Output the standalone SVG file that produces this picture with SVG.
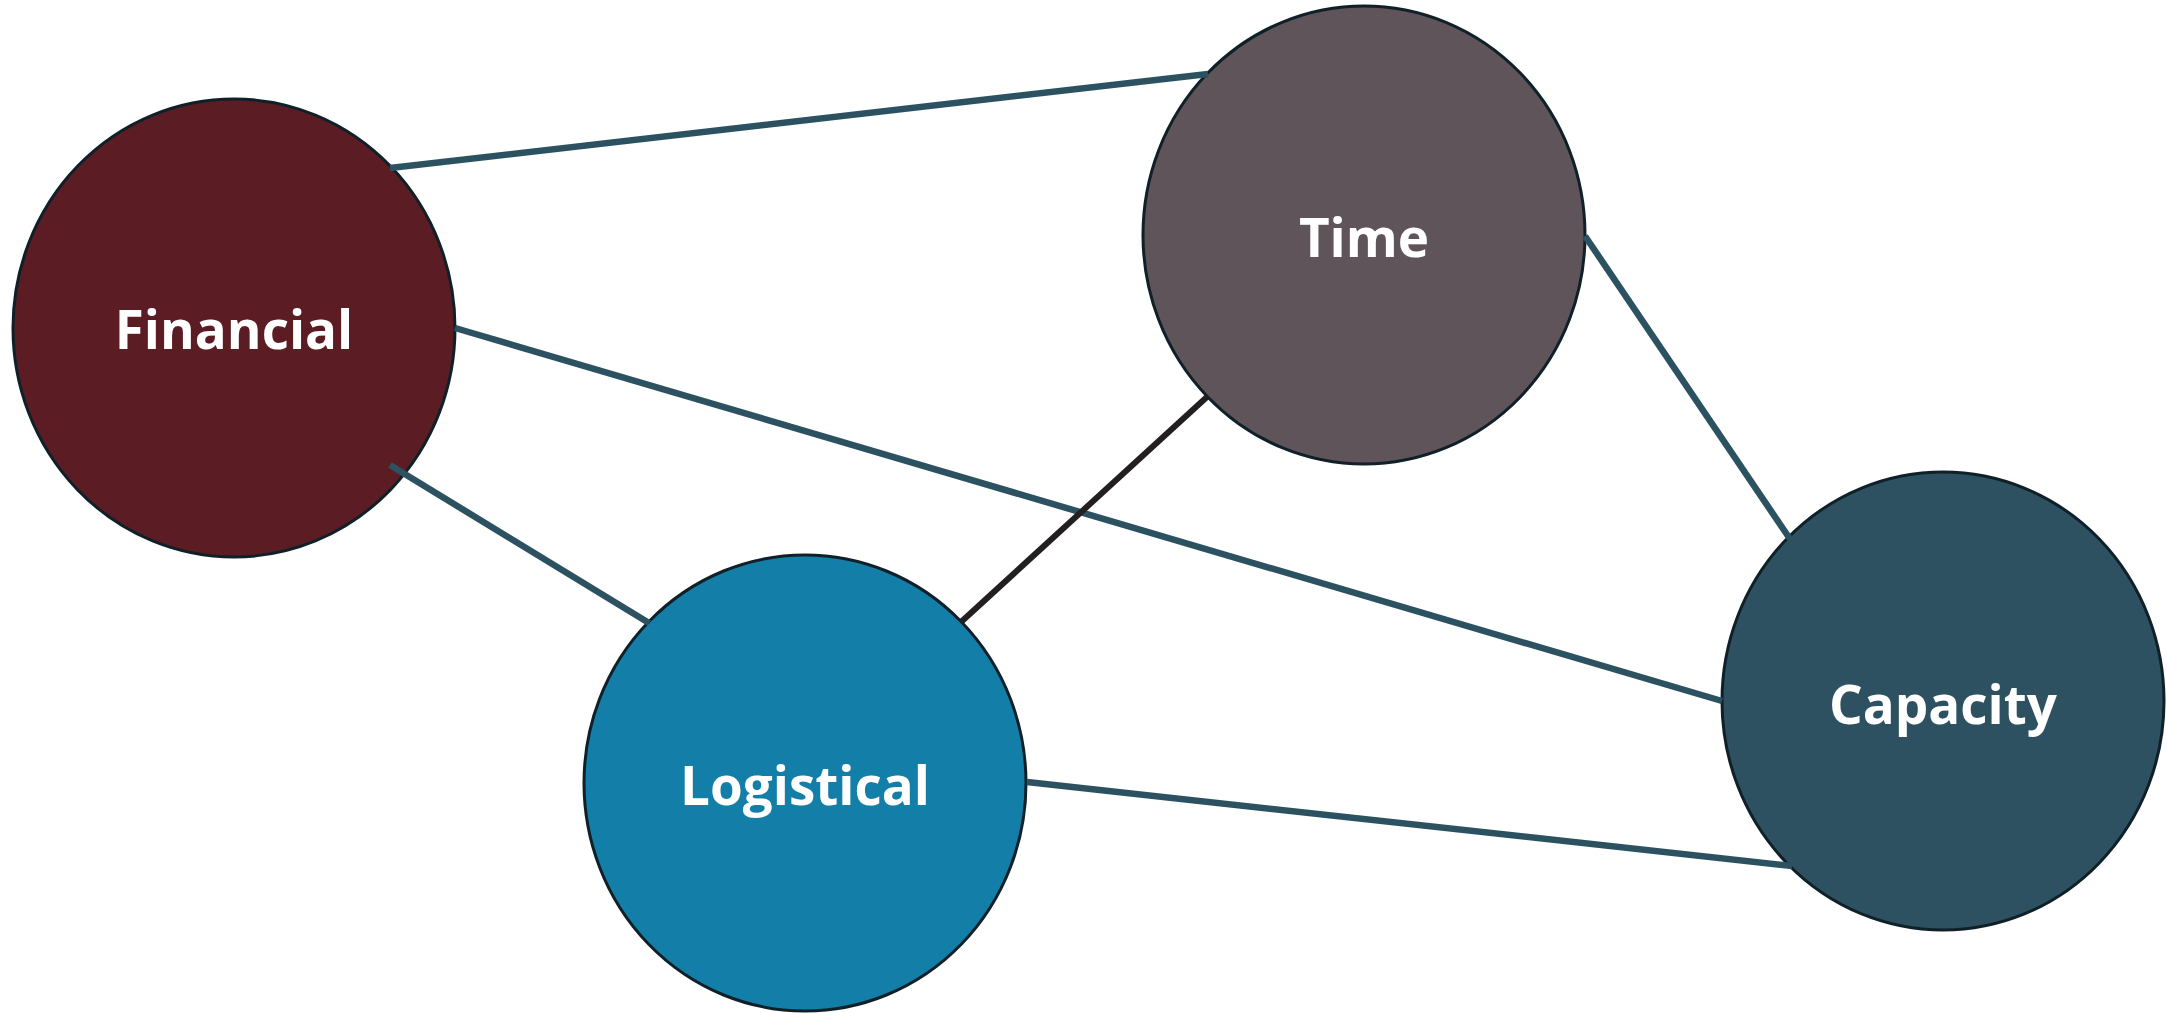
<svg xmlns="http://www.w3.org/2000/svg" width="2167" height="1013" viewBox="0 0 2167 1013">
  <style>
    .node ellipse { stroke: #0f2028; stroke-width: 3; }
    .node text { fill: #ffffff; font-family: "Open Sans", "Liberation Sans", sans-serif; font-weight: 700; font-size: 53px; text-anchor: middle; }
    .link { stroke: #2c5261; stroke-width: 6.5; stroke-linecap: butt; fill: none; }
    .link.dark { stroke: #231f20; stroke-width: 6; }
  </style>
  <rect width="2167" height="1013" fill="#ffffff"/>

  <g id="nodes">
    <g id="financial" class="node">
      <ellipse cx="234" cy="328" rx="221" ry="229" fill="#5c1c24"/>
      <text x="234" y="349">Financial</text>
    </g>
    <g id="time" class="node">
      <ellipse cx="1364" cy="235" rx="221" ry="229" fill="#5e5459"/>
      <text x="1364" y="257">Time</text>
    </g>
    <g id="logistical" class="node">
      <ellipse cx="805" cy="783" rx="221" ry="228" fill="#137fa8"/>
      <text x="805" y="805">Logistical</text>
    </g>
    <g id="capacity" class="node">
      <ellipse cx="1943" cy="701" rx="221" ry="229" fill="#2d5161"/>
      <text x="1943" y="724">Capacity</text>
    </g>
  </g>

  <g id="connectors">
    <line class="link" x1="390" y1="168" x2="1208" y2="74"/>
    <line class="link" x1="455" y1="328" x2="1722" y2="701"/>
    <line class="link" x1="390" y1="465" x2="649" y2="623"/>
    <line class="link dark" x1="1208" y1="396" x2="961" y2="622"/>
    <line class="link" x1="1585" y1="236" x2="1790" y2="539"/>
    <line class="link" x1="1027" y1="782" x2="1792" y2="866"/>
  </g>
</svg>
